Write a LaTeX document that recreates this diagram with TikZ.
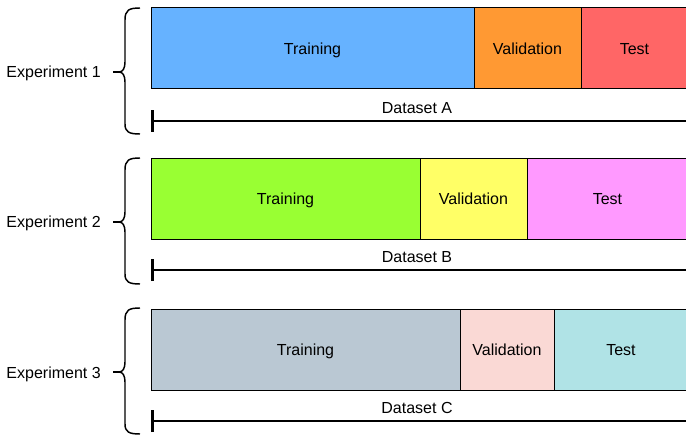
\documentclass[tikz,border=0pt]{standalone}
\usepackage{fontspec}
\setmainfont{Liberation Sans}
\usetikzlibrary{arrows.meta}

\definecolor{trainA}{HTML}{66B2FF}
\definecolor{valA}{HTML}{FF9933}
\definecolor{testA}{HTML}{FF6666}
\definecolor{trainB}{HTML}{99FF33}
\definecolor{valB}{HTML}{FFFF66}
\definecolor{testB}{HTML}{FF99FF}
\definecolor{trainC}{HTML}{BAC8D3}
\definecolor{valC}{HTML}{FAD9D5}
\definecolor{testC}{HTML}{B0E3E6}

\begin{document}
\begin{tikzpicture}[x=0.75pt,y=-0.75pt,
  labelfont/.style={font=\fontsize{12}{14}\selectfont, text height=8.6pt, text depth=0pt},
  part/.style={draw=black, line width=0.75pt, minimum height=60.75pt,
    inner sep=0pt, outer sep=0pt, anchor=north west, labelfont},
  explabel/.style={inner sep=0pt, anchor=east, labelfont},
  dslabel/.style={inner sep=0pt, labelfont},
  dsline/.style={line width=1.5pt, {Bar[width=16.5pt, line width=2pt]}-},
  bracepath/.style={line width=1.1pt, line join=round},
  pics/expbrace/.style={code={
    \draw[bracepath] (140,0) .. controls (129,0) and (125,2) .. (125,12)
      -- (125,54) .. controls (125,60) and (123,64) .. (119,64)
      .. controls (123,64) and (125,68) .. (125,74)
      -- (125,116) .. controls (125,124) and (129,126) .. (140,126);
    \draw[bracepath] (113,64) -- (119,64);
  }}
]
\useasboundingbox (0,0) rectangle (686,435);
\clip (0,0) rectangle (686,435);

% Experiment 1 / Dataset A
\node[part, fill=trainA, minimum width=242.25pt] (trA) at (151,8) {Training};
\node[part, fill=valA, minimum width=80.25pt] (vaA) at (trA.north east) {Validation};
\node[part, fill=testA, minimum width=80.25pt] (teA) at (vaA.north east) {Test};
\coordinate (dsA0) at (151,121);
\coordinate (dsA1) at (700,121);
\draw[dsline] (dsA0) -- (dsA1);
\node[dslabel] (lbA) at (417,108) {Dataset A};
\pic at (0,8) {expbrace};
\node[explabel] (exA) at (101,72) {Experiment 1};

% Experiment 2 / Dataset B
\node[part, fill=trainB, minimum width=201.75pt] (trB) at (151,158) {Training};
\node[part, fill=valB, minimum width=80.25pt] (vaB) at (trB.north east) {Validation};
\node[part, fill=testB, minimum width=120.75pt] (teB) at (vaB.north east) {Test};
\coordinate (dsB0) at (151,270);
\coordinate (dsB1) at (700,270);
\draw[dsline] (dsB0) -- (dsB1);
\node[dslabel] (lbB) at (417,257) {Dataset B};
\pic at (0,158) {expbrace};
\node[explabel] (exB) at (101,222) {Experiment 2};

% Experiment 3 / Dataset C
\node[part, fill=trainC, minimum width=231.75pt] (trC) at (151,309) {Training};
\node[part, fill=valC, minimum width=70.5pt] (vaC) at (trC.north east) {Validation};
\node[part, fill=testC, minimum width=100.5pt] (teC) at (vaC.north east) {Test};
\coordinate (dsC0) at (151,421);
\coordinate (dsC1) at (700,421);
\draw[dsline] (dsC0) -- (dsC1);
\node[dslabel] (lbC) at (417,408) {Dataset C};
\pic at (0,308) {expbrace};
\node[explabel] (exC) at (101,373) {Experiment 3};
\end{tikzpicture}
\end{document}
